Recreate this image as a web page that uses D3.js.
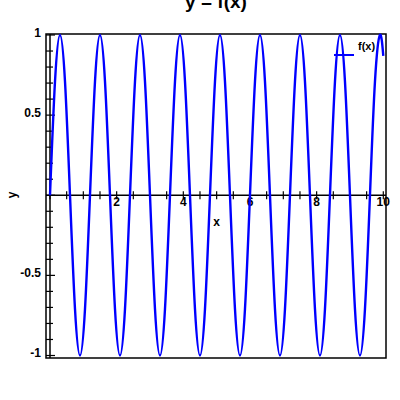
<!DOCTYPE html>
<html>
<head>
<meta charset="utf-8">
<script src="https://cdn.jsdelivr.net/npm/d3@7"></script>
<style>
  html, body { margin: 0; padding: 0; background: #fff; }
  svg { display: block; }
  text { font-family: "Liberation Sans", Arial, sans-serif; font-weight: bold; fill: #000; }
</style>
</head>
<body>
<script>
// Data
const xValues = [0, 0.15, 0.3, 0.45, 0.6, 0.75, 0.9, 1.05, 1.2, 1.35, 1.5, 1.65, 1.8, 1.95, 2.1, 2.25,
  2.4, 2.55, 2.7, 2.85, 3.0, 3.15, 3.3, 3.45, 3.6, 3.75, 3.9, 4.05, 4.2, 4.35, 4.5, 4.65,
  4.8, 4.95, 5.1, 5.25, 5.4, 5.55, 5.7, 5.85, 6.0, 6.15, 6.3, 6.45, 6.6, 6.75, 6.9, 7.05,
  7.2, 7.35, 7.5, 7.65, 7.8, 7.95, 8.1, 8.25, 8.4, 8.55, 8.7, 8.85, 9.0, 9.15, 9.3, 9.45,
  9.6, 9.75, 9.9, 10];
const yValues = [0, 0.71, 1, 0.71, 0, -0.71, -1, -0.71, 0, 0.71, 1, 0.71, 0, -0.71, -1, -0.71,
  0, 0.71, 1, 0.71, 0, -0.71, -1, -0.71, 0, 0.71, 1, 0.71, 0, -0.71, -1, -0.71,
  0, 0.71, 1, 0.71, 0, -0.71, -1, -0.71, 0, 0.71, 1, 0.71, 0, -0.71, -1, -0.71,
  0, 0.71, 1, 0.71, 0, -0.71, -1, -0.71, 0, 0.71, 1, 0.71, 0, -0.71, -1, -0.71,
  0, 0.71, 1, 0.87];
const xTickLabels = [2, 4, 6, 8, 10];
const yTickLabels = [-1, -0.5, 0.5, 1];
const seriesName = "f(x)";
const titleText = "y = f(x)";

const W = 400, H = 400;
const svg = d3.select("body").append("svg").attr("width", W).attr("height", H);

const x = d3.scaleLinear().domain([0, 10]).range([50, 383.3]);
const y = d3.scaleLinear().domain([-1, 1]).range([355.5, 35]);

const frame = { left: 46, top: 34, right: 386, bottom: 358 };

// frame
svg.append("rect")
  .attr("x", frame.left).attr("y", frame.top)
  .attr("width", frame.right - frame.left).attr("height", frame.bottom - frame.top)
  .attr("fill", "none").attr("stroke", "#000").attr("stroke-width", 1.5);

// axes lines through origin
svg.append("line").attr("x1", frame.left).attr("x2", frame.right)
  .attr("y1", y(0)).attr("y2", y(0)).attr("stroke", "#000").attr("stroke-width", 1.5);
svg.append("line").attr("x1", x(0)).attr("x2", x(0))
  .attr("y1", frame.top).attr("y2", frame.bottom).attr("stroke", "#000").attr("stroke-width", 1.5);

// x ticks every 0.5
const xTicks = d3.range(0, 10.001, 0.5);
svg.append("g").selectAll("line").data(xTicks).join("line")
  .attr("x1", d => x(d)).attr("x2", d => x(d))
  .attr("y1", y(0) - 4).attr("y2", y(0) + 4)
  .attr("stroke", "#000").attr("stroke-width", 1.2);

// y ticks every 0.1
const yTicks = d3.range(-10, 11).map(d => d / 10);
svg.append("g").selectAll("line").data(yTicks).join("line")
  .attr("x1", frame.left).attr("x2", d => (Math.abs(Math.round(d * 10)) % 5 === 0) ? x(0) + 5 : x(0) + 3)
  .attr("y1", d => y(d)).attr("y2", d => y(d))
  .attr("stroke", "#000").attr("stroke-width", 1.2);

// tick labels
svg.append("g").selectAll("text").data(xTickLabels).join("text")
  .attr("x", d => x(d)).attr("y", y(0) + 10.5)
  .attr("text-anchor", "middle").attr("font-size", 12)
  .text(d => d);
svg.append("g").selectAll("text").data(yTickLabels).join("text")
  .attr("x", 41).attr("y", d => y(d) + 1.5)
  .attr("text-anchor", "end").attr("font-size", 12)
  .text(d => d);

// axis labels
svg.append("text").attr("x", 216.5).attr("y", 226)
  .attr("text-anchor", "middle").attr("font-size", 12).text("x");
svg.append("text").attr("transform", `translate(16,195) rotate(-90)`)
  .attr("text-anchor", "middle").attr("font-size", 12).text("y");

// title
svg.append("text").attr("x", 216).attr("y", 8)
  .attr("text-anchor", "middle").attr("font-size", 19).text(titleText);

// curve
const pts = xValues.map((v, i) => [v, yValues[i]]);
svg.append("path")
  .attr("d", d3.line().x(d => x(d[0])).y(d => y(d[1])).curve(d3.curveNatural)(pts))
  .attr("fill", "none").attr("stroke", "#0000ff").attr("stroke-width", 2.4);

// legend
svg.append("line").attr("x1", 334).attr("x2", 354).attr("y1", 55).attr("y2", 55)
  .attr("stroke", "#0000ff").attr("stroke-width", 2);
svg.append("text").attr("x", 358).attr("y", 50).attr("font-size", 11).text(seriesName);
</script>
</body>
</html>
